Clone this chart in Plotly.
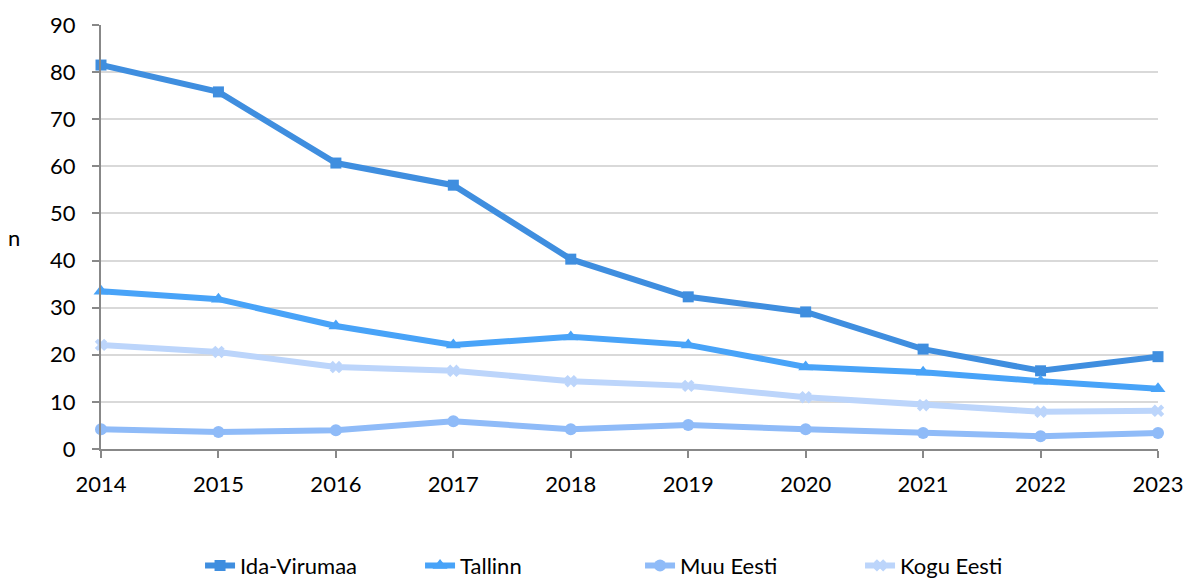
import plotly.graph_objects as go

years = [2014, 2015, 2016, 2017, 2018, 2019, 2020, 2021, 2022, 2023]
ida_virumaa = [81.5, 75.8, 60.7, 56.0, 40.3, 32.3, 29.1, 21.2, 16.6, 19.6]
tallinn = [33.5, 31.8, 26.1, 22.1, 23.8, 22.1, 17.4, 16.3, 14.4, 12.8]
muu_eesti = [4.2, 3.6, 4.0, 5.9, 4.2, 5.1, 4.2, 3.4, 2.7, 3.4]
kogu_eesti = [22.1, 20.6, 17.4, 16.6, 14.4, 13.4, 11.0, 9.3, 7.9, 8.1]

series = [
    ("Ida-Virumaa", ida_virumaa, "#3F8EDF", "square", 11),
    ("Tallinn", tallinn, "#48A3F8", "triangle-up", 13),
    ("Muu Eesti", muu_eesti, "#8FBBF8", "circle", 12),
    ("Kogu Eesti", kogu_eesti, "#BCD5FB", "x", 11),
]

fig = go.Figure()
for name, vals, color, sym, sz in series:
    fig.add_trace(go.Scatter(
        x=years, y=vals, name=name, mode="lines+markers",
        line=dict(color=color, width=6),
        marker=dict(symbol=sym, size=sz, color=color),
        cliponaxis=False,
    ))

fig.add_annotation(text="n", xref="paper", yref="paper", x=-0.0823, y=0.5,
                   showarrow=False, xanchor="center", yanchor="middle",
                   font=dict(size=22))

fig.update_layout(
    width=1186, height=583,
    margin=dict(l=101, r=28, t=25, b=134, autoexpand=False),
    plot_bgcolor="white", paper_bgcolor="white",
    font=dict(family="Lato, Noto Sans, sans-serif", size=22, color="#000"),
    showlegend=True,
    legend=dict(orientation="h", x=0.0937, xanchor="left", y=-0.275, yanchor="middle",
                font=dict(size=22), entrywidth=175, entrywidthmode="pixels",
                traceorder="normal"),
    xaxis=dict(range=[2014, 2023], tickmode="array", tickvals=years,
               ticktext=[str(y) for y in years], showline=True, linecolor="#888",
               linewidth=2, ticks="outside", tickcolor="#888", ticklen=7, tickwidth=2,
               ticklabelstandoff=8, showgrid=False, zeroline=False, automargin=False),
    yaxis=dict(range=[0, 90], dtick=10, showline=True, linecolor="#888", linewidth=2,
               ticks="outside", tickcolor="#888", ticklen=7, tickwidth=2,
               ticklabelstandoff=12, gridcolor="#D9D9D9", gridwidth=2, zeroline=False,
               automargin=False),
)

fig.write_html("out.html", config={"displayModeBar": False},
               post_script="document.body.style.margin='0';document.body.style.overflow='hidden';")
